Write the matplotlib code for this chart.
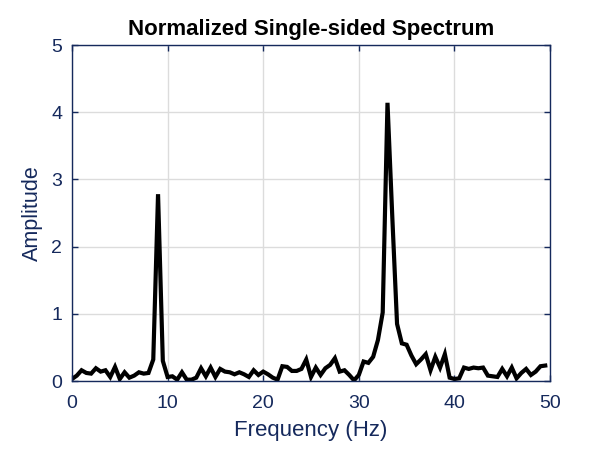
import numpy as np
import matplotlib
matplotlib.use('Agg')
import matplotlib.pyplot as plt

# frequency bins (Hz), 0.5 Hz resolution
freq = np.arange(0, 50, 0.5)

# amplitude
amplitude = [
    0.03, 0.08, 0.16, 0.12, 0.11, 0.19, 0.14, 0.16, 0.06, 0.21,
    0.03, 0.13, 0.05, 0.08, 0.13, 0.11, 0.12, 0.32, 2.78, 0.30,
    0.06, 0.07, 0.02, 0.13, 0.02, 0.02, 0.05, 0.19, 0.07, 0.20,
    0.06, 0.18, 0.14, 0.13, 0.10, 0.13, 0.10, 0.06, 0.16, 0.09,
    0.14, 0.10, 0.05, 0.02, 0.22, 0.21, 0.15, 0.15, 0.18, 0.32,
    0.06, 0.20, 0.09, 0.19, 0.24, 0.34, 0.14, 0.16, 0.09, 0.01,
    0.09, 0.29, 0.27, 0.36, 0.61, 1.02, 4.14, 2.45, 0.85, 0.56,
    0.54, 0.38, 0.25, 0.32, 0.40, 0.16, 0.36, 0.20, 0.40, 0.05,
    0.03, 0.04, 0.20, 0.18, 0.20, 0.19, 0.20, 0.08, 0.07, 0.06,
    0.18, 0.07, 0.20, 0.04, 0.12, 0.18, 0.09, 0.14, 0.22, 0.23,
]

x_ticks = [0, 10, 20, 30, 40, 50]
y_ticks = [0, 1, 2, 3, 4, 5]

navy = '#15295c'
plt.rcParams['font.family'] = ['Liberation Sans', 'DejaVu Sans']

fig = plt.figure(figsize=(6, 4.5), dpi=100)
ax = fig.add_axes([0.12, 0.1533, 0.7967, 0.7467])

ax.plot(freq, amplitude, color='black', linewidth=3, solid_joinstyle='miter')

ax.set_xlim(0, 50)
ax.set_ylim(0, 5)
ax.set_xticks(x_ticks)
ax.set_yticks(y_ticks)
ax.grid(True, color='#dcdcdc', linewidth=1)
ax.set_axisbelow(True)

for s in ax.spines.values():
    s.set_color(navy)
    s.set_linewidth(1)
ax.tick_params(direction='in', length=4, width=1, colors=navy,
               labelsize=14, top=True, right=True, pad=7)
ax.tick_params(axis='x', pad=10)

ax.set_xlabel('Frequency (Hz)', fontsize=16, color=navy, labelpad=6)
ax.set_ylabel('Amplitude', fontsize=15.5, color=navy, labelpad=6)
ax.set_title('Normalized Single-sided Spectrum', fontsize=16,
             fontweight='bold', color='black', pad=7)

fig.savefig('out.png', dpi=100)
